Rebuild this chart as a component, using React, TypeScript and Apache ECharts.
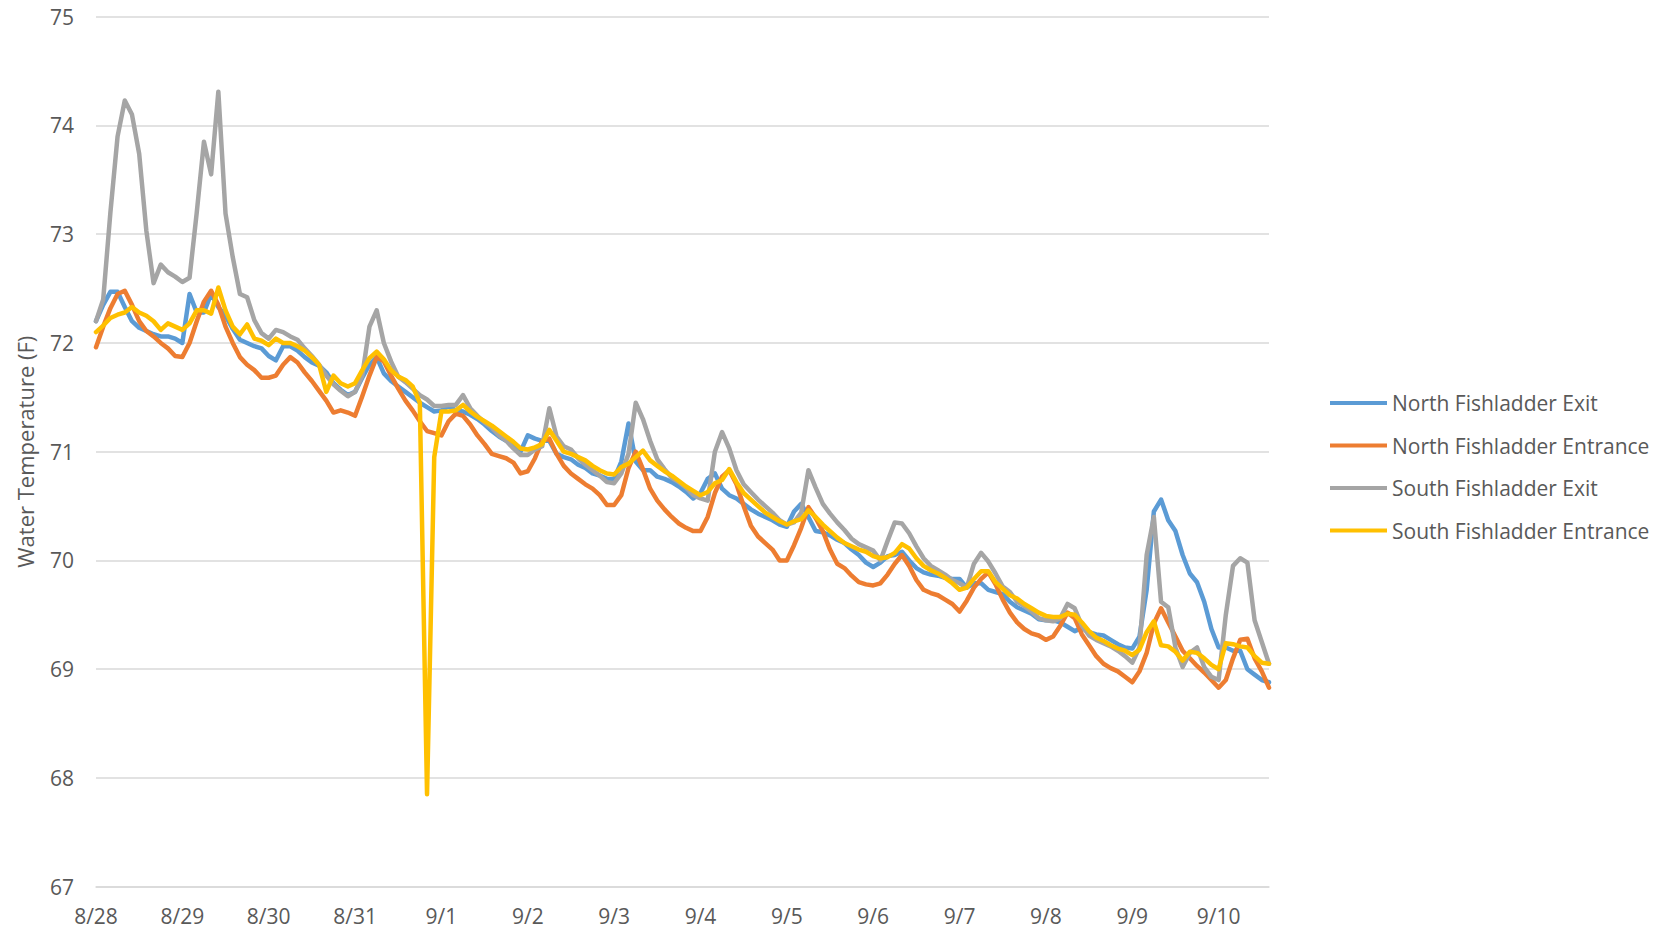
import React, { useEffect, useRef } from 'react';
import * as echarts from 'echarts';

// Day labels on the x axis (one tick every 24 hours, starting 8/28 00:00)
const dayLabels = ['8/28', '8/29', '8/30', '8/31', '9/1', '9/2', '9/3', '9/4', '9/5', '9/6', '9/7', '9/8', '9/9', '9/10'];

// Sample times: hours since 8/28 00:00, one reading every 2 hours
const hours: number[] = Array.from({ length: 164 }, (_, i) => i * 2);

const seriesNames = ['North Fishladder Exit', 'North Fishladder Entrance', 'South Fishladder Exit', 'South Fishladder Entrance'];

// Water temperature (F), 12 readings per day
const northExit = [
  72.2, 72.35, 72.47, 72.47, 72.33, 72.2, 72.14, 72.11, 72.08, 72.06, 72.06, 72.04,
  72.0, 72.45, 72.28, 72.28, 72.45, 72.33, 72.25, 72.13, 72.03, 72.0, 71.97, 71.95,
  71.88, 71.84, 71.97, 71.97, 71.93, 71.87, 71.82, 71.79, 71.73, 71.63, 71.57, 71.52,
  71.55, 71.68, 71.8, 71.87, 71.72, 71.65, 71.6, 71.55, 71.5, 71.45, 71.41, 71.37,
  71.38, 71.42, 71.38, 71.37, 71.34, 71.3, 71.25, 71.19, 71.14, 71.1, 71.07, 71.0,
  71.15, 71.12, 71.1, 71.1, 70.98, 70.95, 70.93, 70.88, 70.85, 70.8, 70.78, 70.75,
  70.75, 70.91, 71.26, 70.91, 70.83, 70.83, 70.77, 70.75, 70.72, 70.68, 70.63, 70.57,
  70.62, 70.75, 70.8, 70.66, 70.6, 70.57, 70.52, 70.47, 70.43, 70.4, 70.37, 70.33,
  70.31, 70.45, 70.52, 70.4, 70.27, 70.26, 70.23, 70.19, 70.16, 70.1, 70.05, 69.98,
  69.94, 69.98, 70.04, 70.05, 70.08, 70.0, 69.93, 69.89, 69.87, 69.86, 69.84, 69.83,
  69.83, 69.75, 69.79, 69.79, 69.73, 69.71, 69.69, 69.62, 69.57, 69.54, 69.51, 69.46,
  69.45, 69.45, 69.43, 69.39, 69.35, 69.38, 69.34, 69.32, 69.31, 69.27, 69.23, 69.2,
  69.19, 69.3, 69.73, 70.45, 70.56, 70.37, 70.27, 70.05, 69.88, 69.8, 69.62, 69.37,
  69.2, 69.2, 69.17, 69.17, 69.0, 68.95, 68.9, 68.88,
];

const northEntrance = [
  71.96, 72.15, 72.32, 72.45, 72.48, 72.35, 72.2, 72.11, 72.06, 72.0, 71.95, 71.88,
  71.87, 72.0, 72.2, 72.38, 72.48, 72.35, 72.15, 72.0, 71.87, 71.8, 71.75, 71.68,
  71.68, 71.7, 71.8, 71.87, 71.82, 71.73, 71.65, 71.56, 71.47, 71.36, 71.38, 71.36,
  71.33, 71.51, 71.7, 71.87, 71.83, 71.7, 71.58, 71.47, 71.38, 71.28, 71.19, 71.17,
  71.15, 71.28, 71.35, 71.33, 71.25, 71.15, 71.07, 70.98, 70.96, 70.94, 70.9, 70.8,
  70.82, 70.94, 71.1, 71.12, 70.98, 70.87, 70.8, 70.75, 70.7, 70.66, 70.6, 70.51,
  70.51, 70.6, 70.85, 71.0, 70.84, 70.66, 70.55, 70.47, 70.4, 70.34, 70.3, 70.27,
  70.27, 70.4, 70.62, 70.77, 70.83, 70.7, 70.5, 70.32, 70.22, 70.16, 70.1, 70.0,
  70.0, 70.14, 70.3, 70.49, 70.39, 70.27, 70.1, 69.97, 69.93, 69.86, 69.8, 69.78,
  69.77, 69.79, 69.87, 69.97, 70.05, 69.95, 69.82, 69.73, 69.7, 69.68, 69.64, 69.6,
  69.53, 69.63, 69.75, 69.83, 69.89, 69.78, 69.64, 69.52, 69.43, 69.37, 69.33, 69.31,
  69.27, 69.3, 69.4, 69.52, 69.47, 69.32, 69.22, 69.12, 69.05, 69.01, 68.98, 68.93,
  68.88, 68.98, 69.15, 69.42, 69.56, 69.43, 69.3, 69.17, 69.1, 69.03, 68.97, 68.9,
  68.83, 68.9, 69.1, 69.27, 69.28, 69.1, 68.98, 68.83,
];

const southExit = [
  72.2, 72.4, 73.2, 73.9, 74.23, 74.1, 73.74, 73.03, 72.55, 72.72, 72.65, 72.61,
  72.56, 72.6, 73.2, 73.85, 73.55, 74.31, 73.19, 72.79, 72.45, 72.42, 72.21, 72.09,
  72.04, 72.12, 72.1, 72.06, 72.03, 71.95, 71.88, 71.8, 71.7, 71.62, 71.56, 71.51,
  71.55, 71.7, 72.15, 72.3, 72.0, 71.83, 71.69, 71.64, 71.58, 71.52, 71.48, 71.42,
  71.42, 71.43, 71.43, 71.52, 71.4, 71.33, 71.27, 71.22, 71.15, 71.1, 71.03, 70.97,
  70.97, 71.02, 71.05, 71.4, 71.14, 71.05, 71.02, 70.94, 70.88, 70.83, 70.78, 70.72,
  70.71, 70.8, 70.98, 71.45, 71.3, 71.1, 70.93, 70.84, 70.76, 70.72, 70.67, 70.6,
  70.57, 70.55, 71.0, 71.18, 71.03, 70.83, 70.7, 70.63, 70.56, 70.5, 70.44, 70.37,
  70.33, 70.35, 70.44, 70.83, 70.67, 70.52, 70.43, 70.35, 70.28, 70.2, 70.15, 70.12,
  70.09, 70.0, 70.18, 70.35, 70.34, 70.25, 70.13, 70.02, 69.95, 69.91, 69.87, 69.82,
  69.79, 69.75, 69.97, 70.07, 69.99, 69.88, 69.76, 69.71, 69.62, 69.58, 69.53, 69.47,
  69.45, 69.44, 69.47, 69.6, 69.56, 69.4, 69.31, 69.27, 69.24, 69.21, 69.17, 69.12,
  69.06, 69.2, 70.05, 70.4, 69.62, 69.57, 69.2, 69.02, 69.15, 69.2, 69.02, 68.93,
  68.9, 69.5, 69.95, 70.02, 69.98, 69.45, 69.25, 69.05,
];

const southEntrance = [
  72.1, 72.16, 72.23, 72.26, 72.28, 72.33, 72.28, 72.25, 72.2, 72.12, 72.18, 72.15,
  72.12, 72.18, 72.3, 72.3, 72.27, 72.51, 72.3, 72.15, 72.08, 72.17, 72.04, 72.02,
  71.98, 72.04, 72.0, 72.0, 71.97, 71.93, 71.87, 71.8, 71.55, 71.7, 71.63, 71.6,
  71.63, 71.75, 71.86, 71.92, 71.85, 71.75, 71.69, 71.66, 71.6, 71.45, 67.85, 70.95,
  71.37, 71.37, 71.38, 71.43, 71.37, 71.32, 71.28, 71.24, 71.19, 71.14, 71.09, 71.03,
  71.02, 71.04, 71.07, 71.2, 71.1, 71.0, 70.98, 70.95, 70.92, 70.87, 70.83, 70.8,
  70.79, 70.86, 70.89, 70.95, 71.01, 70.92, 70.87, 70.82, 70.78, 70.73, 70.68, 70.64,
  70.6, 70.63, 70.71, 70.74, 70.84, 70.72, 70.62, 70.56, 70.5, 70.44, 70.4, 70.36,
  70.33, 70.36, 70.38, 70.46, 70.4, 70.33, 70.27, 70.21, 70.16, 70.13, 70.1, 70.08,
  70.04, 70.02, 70.03, 70.07, 70.15, 70.11, 70.02, 69.95, 69.91, 69.88, 69.84, 69.79,
  69.73, 69.75, 69.83, 69.9, 69.9, 69.8, 69.74, 69.68, 69.65, 69.6, 69.56, 69.52,
  69.49, 69.48, 69.48, 69.51, 69.5, 69.43, 69.35, 69.29, 69.26, 69.22, 69.19, 69.17,
  69.13, 69.18, 69.34, 69.44, 69.22, 69.21, 69.16, 69.08, 69.16, 69.15, 69.1, 69.04,
  69.0, 69.24, 69.23, 69.21, 69.2, 69.12, 69.06, 69.05,
];

const colors = ['#5B9BD5', '#ED7D31', '#A5A5A5', '#FFC000'];
const FONT = '"Open Sans", Lato, sans-serif';
const TEXT = '#595959';

export default function App() {
  const ref = useRef<HTMLDivElement>(null);

  useEffect(() => {
    document.body.style.margin = '0';
    if (!ref.current) return;
    const chart = echarts.init(ref.current, null, { renderer: 'svg' });
    const all = [northExit, northEntrance, southExit, southEntrance];
    const series = all.map((vals, k) => ({
      name: seriesNames[k],
      type: 'line',
      data: hours.map((h, i) => [h, vals[i]]),
      symbol: 'none',
      showSymbol: false,
      smooth: false,
      color: colors[k],
      lineStyle: { color: colors[k], width: 4.5, cap: 'round', join: 'round' },
      emphasis: { disabled: true },
    }));

    chart.setOption({
      animation: false,
      textStyle: { fontFamily: FONT },
      grid: { left: 96, right: 399, top: 16.7, bottom: 44.3, containLabel: false },
      xAxis: {
        type: 'value',
        min: 0,
        max: 326,
        interval: 24,
        axisLine: { show: true, lineStyle: { color: '#D9D9D9', width: 1.5 } },
        axisTick: { show: false },
        splitLine: { show: false },
        axisLabel: {
          color: TEXT,
          fontSize: 21,
          fontFamily: FONT,
          margin: 19,
          showMaxLabel: false,
          formatter: (v: number) => (v % 24 === 0 ? dayLabels[v / 24] ?? '' : ''),
        },
      },
      yAxis: {
        type: 'value',
        min: 67,
        max: 75,
        interval: 1,
        name: 'Water Temperature (F)',
        nameLocation: 'middle',
        nameGap: 60,
        nameTextStyle: { color: TEXT, fontSize: 22, fontFamily: FONT },
        axisLine: { show: false },
        axisTick: { show: false },
        splitLine: { show: true, lineStyle: { color: '#D9D9D9', width: 1.5 } },
        axisLabel: { color: TEXT, fontSize: 21, fontFamily: FONT, margin: 22 },
      },
      legend: {
        orient: 'vertical',
        left: 1330,
        top: 391,
        padding: 0,
        itemWidth: 57,
        itemHeight: 4,
        itemGap: 18.5,
        icon: 'rect',
        data: seriesNames,
        textStyle: { color: TEXT, fontSize: 21, fontFamily: FONT, lineHeight: 24 },
        selectedMode: false,
      },
      tooltip: { show: false },
      series,
    });

    return () => chart.dispose();
  }, []);

  return (
    <div
      ref={ref}
      style={{ position: 'fixed', left: 0, top: 0, width: 1668, height: 931, background: '#ffffff' }}
    />
  );
}
